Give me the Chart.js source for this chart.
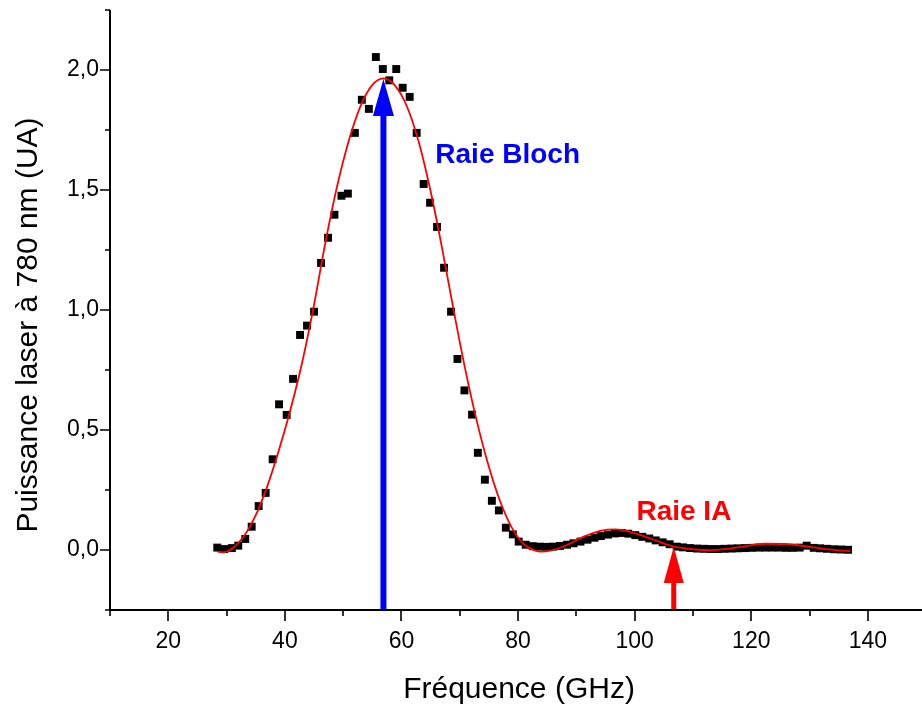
<!DOCTYPE html>
<html>
<head>
<meta charset="utf-8">
<script src="https://cdn.jsdelivr.net/npm/chart.js@4/dist/chart.umd.min.js"></script>
<style>
html,body{margin:0;padding:0;background:#ffffff;}
#wrap{width:922px;height:706px;}
</style>
</head>
<body>
<div id="wrap"><canvas id="c" width="922" height="706"></canvas></div>
<script>
// ---------- data ----------
const freqGHz = [28.4,29.6,30.9,32.0,33.2,34.3,35.5,36.7,37.9,39.0,40.3,41.4,42.6,43.8,45.0,46.2,47.4,48.5,49.7,50.8,
  52.0,53.2,54.4,55.6,56.8,57.9,59.1,60.2,61.4,62.6,63.8,64.9,66.1,67.3,68.5,69.6,70.8,72.1,73.1,74.3,75.5,76.7,77.9,79.1,80.1,
  81.3,82.5,83.7,84.8,86.0,87.2,88.4,89.5,90.7,91.9,93.1,94.2,95.4,96.6,97.8,98.9,100.1,101.3,102.5,103.6,104.8,106.0,
  107.2,108.3,109.5,110.7,111.9,113.0,114.2,115.4,116.6,117.7,118.9,120.1,121.3,122.4,123.6,124.8,126.0,127.1,128.3,129.5,
  130.7,131.8,133.0,134.2,135.4,136.6];
const power = [0.010,0.004,0.008,0.018,0.046,0.097,0.183,0.238,0.378,0.607,0.563,0.713,0.896,0.935,0.993,1.196,1.301,1.397,1.476,1.485,
  1.738,1.876,1.838,2.054,2.004,1.957,2.004,1.926,1.888,1.738,1.525,1.447,1.346,1.176,0.993,0.796,0.665,0.564,0.405,0.293,0.205,0.165,0.093,0.065,0.035,
  0.022,0.016,0.014,0.013,0.014,0.017,0.022,0.028,0.035,0.043,0.051,0.058,0.064,0.069,0.071,0.068,0.062,0.055,0.048,0.040,0.032,0.024,
  0.014,0.011,0.008,0.006,0.005,0.004,0.004,0.005,0.006,0.007,0.008,0.009,0.010,0.010,0.010,0.010,0.009,0.009,0.010,0.018,
  0.009,0.007,0.005,0.003,0.002,0.001];

const fitFreqGHz = [28.4,29.4,30.9,32.9,34.9,36.9,38.9,40.9,42.9,44.9,46.9,48.9,50.9,52.9,54.9,56.9,
  58.9,60.9,62.9,64.9,66.9,68.9,70.9,72.9,74.9,76.9,78.9,80.9,82.9,83.9,85.5,88.4,91.2,94.1,96.7,99.2,102.6,106.6,
  110.4,113.0,116.0,118.4,122.4,125.8,129.8,133.2,137.0];
const fitPower = [-0.007,-0.010,0.005,0.055,0.140,0.260,0.410,0.580,0.775,1.010,1.275,1.510,1.700,1.845,1.935,1.965,
  1.935,1.850,1.705,1.505,1.265,1.005,0.757,0.539,0.354,0.204,0.094,0.026,-0.002,-0.007,-0.003,0.021,0.055,0.080,0.086,0.076,0.049,0.015,
  0.002,-0.001,0.005,0.014,0.026,0.025,0.014,0.003,-0.005];

const xTickValues = [10,20,30,40,50,60,70,80,90,100,110,120,130,140];
const xTickLabels = ['','20','','40','','60','','80','','100','','120','','140'];
const yTickValues = [-0.25,0,0.25,0.5,0.75,1,1.25,1.5,1.75,2,2.25];
const yTickLabels = ['','0,0','','0,5','','1,0','','1,5','','2,0',''];

const xTitle = 'Fréquence (GHz)';
const yTitle = 'Puissance laser à 780 nm (UA)';

const arrowNames = ['Raie Bloch','Raie IA'];
const arrowFreq = [56.9, 106.7];
const arrowTip = [1.962, 0.012];
const labelFreq = [65.8, 100.3];
const labelPower = [1.6125, 0.125];

// ---------- styles ----------
const FONT = "Arial, 'Liberation Sans', sans-serif";
const arrowColors = ['#0000ff','#ff0000'];
const arrowShaft = [6, 5];
const arrowHeadLen = [37, 36];
const arrowHeadW = [21, 20];

const points = freqGHz.map((f,i)=>({x:f, y:power[i]}));
const fitPts = fitFreqGHz.map((f,i)=>({x:f, y:fitPower[i]}));

const decor = {
  id: 'decor',
  afterDatasetsDraw(chart) {
    const {ctx, scales:{x, y}} = chart;
    ctx.save();
    arrowFreq.forEach((f, i) => {
      const px = x.getPixelForValue(f);
      const top = y.getPixelForValue(arrowTip[i]);
      const base = y.getPixelForValue(y.min);
      const sw = arrowShaft[i], hl = arrowHeadLen[i], hw = arrowHeadW[i];
      ctx.fillStyle = arrowColors[i];
      ctx.fillRect(px - sw/2, top + hl - 2, sw, base - top - hl + 3);
      ctx.beginPath();
      ctx.moveTo(px, top);
      ctx.lineTo(px + hw/2, top + hl);
      ctx.lineTo(px - hw/2, top + hl);
      ctx.closePath();
      ctx.fill();
      ctx.font = 'bold 28px ' + FONT;
      ctx.textAlign = 'left';
      ctx.textBaseline = 'alphabetic';
      ctx.fillText(arrowNames[i], x.getPixelForValue(labelFreq[i]), y.getPixelForValue(labelPower[i]));
    });
    ctx.restore();
  },
  afterDraw(chart) {
    const {ctx, chartArea:a, scales:{x, y}} = chart;
    ctx.save();
    ctx.strokeStyle = '#000';
    ctx.lineWidth = 2;
    ctx.beginPath();
    ctx.moveTo(a.left, a.top); ctx.lineTo(a.left, a.bottom + 1);
    ctx.moveTo(a.left - 1, a.bottom); ctx.lineTo(a.right, a.bottom);
    ctx.stroke();
    ctx.lineWidth = 1.6;
    ctx.beginPath();
    xTickValues.forEach((v, i) => {
      const px = Math.round(x.getPixelForValue(v));
      const len = xTickLabels[i] ? 11 : 6;
      ctx.moveTo(px, a.bottom); ctx.lineTo(px, a.bottom + len);
    });
    yTickValues.forEach((v, i) => {
      const py = Math.round(y.getPixelForValue(v));
      const len = yTickLabels[i] ? 10 : 5;
      ctx.moveTo(a.left, py); ctx.lineTo(a.left - len, py);
    });
    ctx.stroke();
    ctx.fillStyle = '#000';
    ctx.font = '30px ' + FONT;
    ctx.textAlign = 'center';
    ctx.textBaseline = 'alphabetic';
    ctx.fillText(xTitle, 519, 698);
    ctx.translate(29, 325);
    ctx.rotate(-Math.PI / 2);
    ctx.textBaseline = 'middle';
    ctx.fillText(yTitle, 0, 0);
    ctx.restore();
  }
};

new Chart(document.getElementById('c'), {
  type: 'scatter',
  data: {
    datasets: [
      {
        label: 'Ajustement',
        type: 'line',
        data: fitPts,
        borderColor: '#ff0000',
        borderWidth: 1.8,
        pointRadius: 0,
        fill: false,
        cubicInterpolationMode: 'monotone',
        order: 0
      },
      {
        label: 'Mesures',
        data: points,
        pointStyle: 'rect',
        pointRadius: 5.6,
        pointHoverRadius: 5.6,
        backgroundColor: '#000000',
        borderWidth: 0,
        order: 1
      }
    ]
  },
  options: {
    responsive: false,
    animation: false,
    devicePixelRatio: 1,
    layout: { autoPadding: false, padding: { top: 10, right: 0, bottom: 0, left: 0 } },
    plugins: { legend: { display: false }, tooltip: { enabled: false } },
    scales: {
      x: {
        type: 'linear',
        min: 10,
        max: 149.28,
        afterBuildTicks: (s) => { s.ticks = xTickValues.map(v => ({value: v})); },
        afterFit: (s) => { s.height = 96; s.paddingLeft = 0; s.paddingRight = 0; },
        grid: { display: false, drawTicks: false },
        border: { display: false },
        ticks: {
          autoSkip: false, maxRotation: 0, padding: 18,
          color: '#000',
          font: { family: FONT, size: 23 },
          callback: (v, i) => xTickLabels[i]
        }
      },
      y: {
        type: 'linear',
        min: -0.25,
        max: 2.25,
        afterBuildTicks: (s) => { s.ticks = yTickValues.map(v => ({value: v})); },
        afterFit: (s) => { s.width = 110; s.paddingTop = 0; s.paddingBottom = 0; },
        grid: { display: false, drawTicks: false },
        border: { display: false },
        ticks: {
          autoSkip: false, padding: 11,
          color: '#000',
          font: { family: FONT, size: 23 },
          callback: (v, i) => yTickLabels[i]
        }
      }
    }
  },
  plugins: [decor]
});
</script>
</body>
</html>
